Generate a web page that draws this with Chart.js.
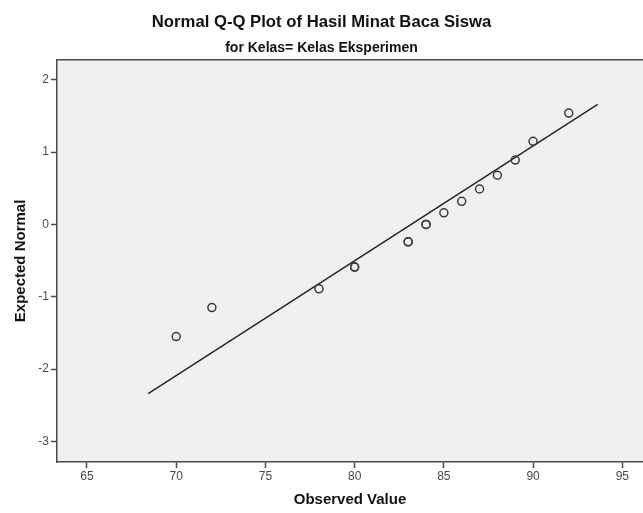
<!DOCTYPE html>
<html><head><meta charset="utf-8">
<script src="https://cdn.jsdelivr.net/npm/chart.js@4"></script>
<style>html,body{margin:0;padding:0;background:#fff;overflow:hidden}#wrap{width:643px;height:513px;position:relative}</style>
</head><body><div id="wrap"><canvas id="c" width="643" height="513"></canvas></div>
<script>
// Data
const observed = [70, 72, 78, 80, 80, 83, 83, 84, 84, 85, 86, 87, 88, 89, 90, 92];
const expected = [-1.55, -1.15, -0.89, -0.59, -0.59, -0.24, -0.24, 0.00, 0.00, 0.16, 0.32, 0.49, 0.68, 0.89, 1.15, 1.54];
const lineX = [68.43, 93.62];
const lineY = [-2.34, 1.66];
const xTicks = [65, 70, 75, 80, 85, 90, 95];
const yTicks = [-3, -2, -1, 0, 1, 2];
const titleText = 'Normal Q-Q Plot of Hasil Minat Baca Siswa';
const subtitleText = 'for Kelas= Kelas Eksperimen';
const xTitle = 'Observed Value';
const yTitle = 'Expected Normal';

Chart.defaults.font.family = "'Liberation Sans', Arial, sans-serif";
Chart.defaults.color = '#222';

const axisColor = '#4a4a4a';

const plotBg = {
  id: 'plotBg',
  beforeDraw(chart) {
    const {ctx, chartArea: a} = chart;
    ctx.save();
    ctx.fillStyle = '#f0f0f0';
    ctx.fillRect(a.left, a.top, a.right - a.left, a.bottom - a.top);
    ctx.restore();
  },
  afterDraw(chart) {
    const {ctx, chartArea: a} = chart;
    ctx.save();
    ctx.strokeStyle = axisColor;
    ctx.lineWidth = 1.5;
    ctx.beginPath();
    ctx.moveTo(a.left, a.top);
    ctx.lineTo(a.right, a.top);
    ctx.stroke();
    ctx.restore();
  }
};

new Chart(document.getElementById('c'), {
  type: 'scatter',
  data: {
    datasets: [
      {
        type: 'line',
        data: lineX.map((x, i) => ({x, y: lineY[i]})),
        borderColor: '#222',
        borderWidth: 1.4,
        pointRadius: 0,
        fill: false,
        order: 2
      },
      {
        data: observed.map((x, i) => ({x, y: expected[i]})),
        pointRadius: 4,
        pointBorderWidth: 1.5,
        pointBorderColor: '#3a3a3a',
        pointBackgroundColor: 'rgba(0,0,0,0)',
        order: 1
      }
    ]
  },
  options: {
    responsive: false,
    animation: false,
    events: [],
    layout: {padding: 0, autoPadding: false},
    plugins: {
      legend: {display: false},
      tooltip: {enabled: false},
      title: {
        display: true, text: titleText, color: '#111',
        font: {size: 16.7, weight: 'bold'},
        padding: {top: 12, bottom: 4}
      },
      subtitle: {
        display: true, text: subtitleText, color: '#111',
        font: {size: 14, weight: 'bold'},
        padding: {top: 4, bottom: 3}
      }
    },
    scales: {
      x: {
        type: 'linear', min: 63.32, max: 96.16,
        afterBuildTicks: s => { s.ticks = xTicks.map(v => ({value: v})); },
        afterFit: s => { s.height = 51; s.paddingLeft = 0; s.paddingRight = 0; },
        grid: {drawOnChartArea: false, drawTicks: true, tickLength: 6, tickColor: axisColor, tickWidth: 1.5},
        border: {display: true, color: axisColor, width: 1.5},
        ticks: {color: '#4a4a4a', font: {size: 12}, padding: 1, maxRotation: 0},
        title: {display: true, text: xTitle, color: '#111', font: {size: 15, weight: 'bold'}, padding: {top: 0, bottom: 4}}
      },
      y: {
        type: 'linear', min: -3.285, max: 2.276,
        afterBuildTicks: s => { s.ticks = yTicks.map(v => ({value: v})); },
        afterFit: s => { s.width = 57; s.paddingTop = 0; s.paddingBottom = 0; },
        grid: {drawOnChartArea: false, drawTicks: true, tickLength: 6, tickColor: axisColor, tickWidth: 1.5},
        border: {display: true, color: axisColor, width: 1.5},
        ticks: {color: '#4a4a4a', font: {size: 12}, padding: 2},
        title: {display: true, text: yTitle, color: '#111', font: {size: 15, weight: 'bold'}, padding: {top: 12, bottom: 0}}
      }
    }
  },
  plugins: [plotBg]
});
</script>
</body></html>
